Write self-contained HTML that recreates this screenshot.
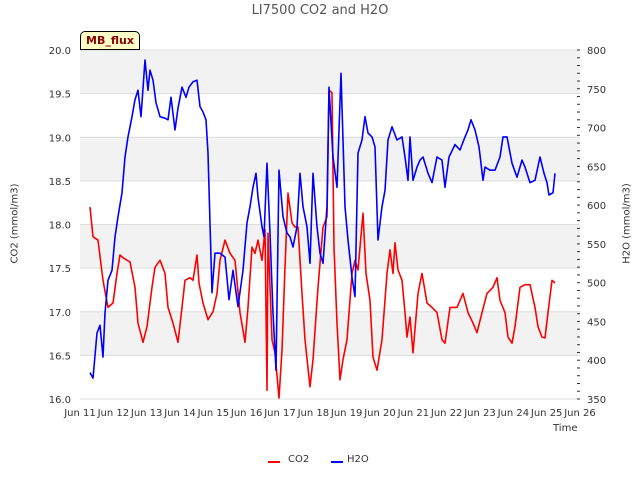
<!DOCTYPE html>
<html><head><meta charset="utf-8"><style>
body{margin:0;background:#fff;}
svg text{font-family:"DejaVu Sans","Liberation Sans",sans-serif;}
</style></head><body>
<svg id="chart" width="640" height="480" viewBox="0 0 640 480"></svg>
<script>
const co2Days=[11.30,11.39,11.54,11.69,11.84,11.99,12.11,12.20,12.29,12.50,12.65,12.74,12.89,13.01,13.16,13.25,13.40,13.55,13.64,13.79,13.94,14.06,14.15,14.30,14.39,14.51,14.57,14.69,14.84,14.99,15.11,15.20,15.35,15.50,15.65,15.80,15.95,16.04,16.16,16.25,16.34,16.46,16.55,16.61,16.64,16.76,16.85,16.97,17.06,17.15,17.24,17.36,17.45,17.54,17.66,17.75,17.90,17.99,18.14,18.29,18.41,18.47,18.56,18.62,18.71,18.80,18.89,19.01,19.16,19.25,19.34,19.49,19.58,19.70,19.79,19.91,20.06,20.21,20.30,20.39,20.45,20.54,20.66,20.75,20.81,20.90,20.99,21.14,21.26,21.41,21.56,21.71,21.86,21.95,22.10,22.31,22.49,22.64,22.79,22.91,23.06,23.21,23.39,23.51,23.60,23.75,23.84,23.96,24.05,24.20,24.35,24.50,24.65,24.74,24.86,24.95,25.04,25.16,25.25];
const co2Vals=[18.20,17.86,17.82,17.36,17.05,17.10,17.44,17.65,17.62,17.57,17.28,16.87,16.65,16.83,17.28,17.51,17.59,17.44,17.05,16.87,16.65,17.05,17.36,17.39,17.36,17.65,17.33,17.10,16.91,17.00,17.21,17.59,17.82,17.67,17.59,16.99,16.65,17.05,17.74,17.67,17.82,17.59,17.94,16.10,17.90,16.68,16.53,16.01,16.56,17.51,18.36,18.02,17.97,17.97,17.21,16.68,16.14,16.45,17.28,17.97,18.09,19.54,19.51,17.74,16.87,16.22,16.45,16.68,17.44,17.59,17.48,18.13,17.44,17.13,16.48,16.33,16.68,17.44,17.71,17.44,17.79,17.48,17.36,16.99,16.71,16.94,16.53,17.21,17.44,17.10,17.05,16.99,16.68,16.64,17.05,17.05,17.21,16.99,16.87,16.76,16.99,17.21,17.28,17.39,17.13,16.99,16.71,16.64,16.83,17.28,17.31,17.31,17.05,16.83,16.71,16.70,16.99,17.36,17.33];
const h2oDays=[11.30,11.39,11.51,11.60,11.69,11.75,11.84,11.96,12.05,12.14,12.26,12.35,12.44,12.56,12.65,12.74,12.83,12.95,13.04,13.10,13.19,13.28,13.40,13.55,13.64,13.73,13.85,13.94,14.06,14.18,14.27,14.39,14.51,14.60,14.69,14.78,14.84,14.96,15.05,15.20,15.35,15.47,15.59,15.74,15.89,16.01,16.10,16.19,16.28,16.34,16.46,16.52,16.61,16.70,16.79,16.88,16.97,17.09,17.21,17.30,17.39,17.51,17.60,17.69,17.81,17.90,17.99,18.11,18.20,18.29,18.41,18.47,18.59,18.71,18.83,18.95,19.04,19.16,19.25,19.34,19.46,19.55,19.64,19.76,19.85,19.94,20.06,20.15,20.24,20.36,20.51,20.66,20.75,20.84,20.90,20.99,21.11,21.20,21.29,21.44,21.56,21.71,21.86,21.95,22.07,22.25,22.40,22.55,22.64,22.73,22.85,22.97,23.09,23.15,23.30,23.45,23.60,23.69,23.81,23.96,24.11,24.26,24.35,24.50,24.65,24.80,24.92,25.01,25.07,25.19,25.25];
const h2oVals=[384,377,435,445,404,461,503,516,559,585,616,662,688,714,736,748,714,787,748,774,761,732,714,712,710,739,697,725,752,739,752,759,761,727,720,710,667,487,538,538,533,478,516,469,516,577,598,623,641,610,572,559,654,564,461,387,645,585,564,559,546,572,641,598,572,525,641,572,538,525,598,752,662,623,770,598,555,507,482,667,684,714,693,688,675,555,598,619,684,701,684,688,662,632,688,632,649,658,662,641,629,662,658,623,662,678,671,688,697,710,697,675,632,649,645,645,662,688,688,654,636,658,649,629,632,662,641,629,613,616,641];
const xTickDays=[11,12,13,14,15,16,17,18,19,20,21,22,23,24,25,26];
const leftTicks=[16.0,16.5,17.0,17.5,18.0,18.5,19.0,19.5,20.0];
const rightTicks=[350,400,450,500,550,600,650,700,750,800];

const NS='http://www.w3.org/2000/svg';
const svg=document.getElementById('chart');
const L=80,R=580,T=50,B=399;
const xs=d=>L+(d-11)*(R-L)/15;
const yL=v=>B-(v-16)*(B-T)/4;
const yR=v=>B-(v-350)*(B-T)/450;
function mk(tag,attrs,parent){const e=document.createElementNS(NS,tag);for(const k in attrs)e.setAttribute(k,attrs[k]);(parent||svg).appendChild(e);return e;}

// bands & grid
for(let i=0;i<leftTicks.length-1;i++){
  if(i%2===1){
    const b=mk('rect',{x:L,y:yL(leftTicks[i+1]),width:R-L,height:yL(leftTicks[i])-yL(leftTicks[i+1]),fill:'#f2f2f2'});
    
    
  }
}
leftTicks.forEach(v=>{
  const g=mk('line',{x1:L,x2:R,y1:yL(v),y2:yL(v),stroke:'#dcdcdc','stroke-width':1});
  
  
  const t=mk('text',{x:L-9,y:yL(v)+4,'font-size':10,'text-anchor':'end',fill:'#333'});
  t.textContent=v.toFixed(1);
  
  
});
rightTicks.forEach(v=>{
  const t=mk('text',{x:R+7,y:yR(v)+4,'font-size':10,fill:'#333'});
  t.textContent=v;
  
  
});
for(let v=350;v<=800;v+=10){
  const tk=mk('line',{x1:R-3,x2:R,y1:yR(v),y2:yR(v),stroke:'#333','stroke-width':1});
  
  
}
xTickDays.forEach(d=>{
  const t=mk('text',{x:xs(d),y:416,'font-size':10,'text-anchor':'middle',fill:'#333'});
  t.textContent='Jun '+d;
  
  
});

function series(days,vals,ys,color,name){
  const p=mk('polyline',{points:days.map((d,i)=>xs(d).toFixed(1)+','+ys(vals[i]).toFixed(1)).join(' '),fill:'none',stroke:color,'stroke-width':1.6,'stroke-linejoin':'round'});
  
  
}
series(co2Days,co2Vals,yL,'#ff0000','co2-line');
series(h2oDays,h2oVals,yR,'#0000ff','h2o-line');
</script>
<div style="position:absolute;left:0;top:0;width:640px;height:480px;pointer-events:none;font-family:'DejaVu Sans','Liberation Sans',sans-serif;">
  <div style="position:absolute;left:0;width:640px;top:3px;text-align:center;font-size:13px;color:#555;">LI7500 CO2 and H2O</div>
  <div style="position:absolute;left:80px;top:31px;width:58px;height:17px;background:#ffffc8;border:1px solid #000;border-radius:5px 5px 0 0;font-size:11px;font-weight:bold;color:#8b0000;text-align:center;line-height:17px;">MB_flux</div>
  <div style="position:absolute;left:-35px;top:218px;width:100px;text-align:center;font-size:10px;color:#333;transform:rotate(-90deg);">CO2 (mmol/m3)</div>
  <div style="position:absolute;left:577px;top:218px;width:100px;text-align:center;font-size:10px;color:#333;transform:rotate(-90deg);">H2O (mmol/m3)</div>
  <div style="position:absolute;left:553px;top:423px;font-size:10px;color:#333;">Time</div>
  <div style="position:absolute;left:268px;top:454px;font-size:10px;color:#333;height:14px;width:120px;">
    <span style="position:absolute;left:0;top:7px;width:12px;height:2px;background:#f00;"></span>
    <span style="position:absolute;left:20px;top:0;">CO2</span>
    <span style="position:absolute;left:63px;top:7px;width:12px;height:2px;background:#00f;"></span>
    <span style="position:absolute;left:79px;top:0;">H2O</span>
  </div>
</div>
</body></html>
